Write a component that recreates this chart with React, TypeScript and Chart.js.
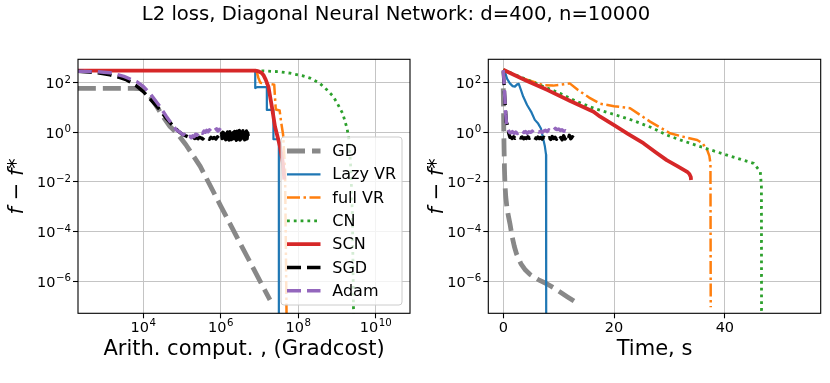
import React, { useEffect, useRef } from "react";
import { Chart, registerables } from "chart.js";

Chart.register(...registerables);

const FONT = "'DejaVu Sans', 'Liberation Sans', sans-serif";

// ---------- texts ----------
const SUPTITLE = "L2 loss, Diagonal Neural Network: d=400, n=10000";
const X_TITLE_LEFT = "Arith. comput. , (Gradcost)";
const X_TITLE_RIGHT = "Time, s";
const Y_TITLE = "f − f*";
const SERIES_NAMES = ["GD", "Lazy VR", "full VR", "CN", "SCN", "SGD", "Adam"];

// ---------- ticks / ranges (exponents of 10 for log axes) ----------
const X_TICKS_LEFT_EXP = [4, 6, 8, 10];
const X_TICKS_RIGHT = [0, 20, 40];
const Y_TICKS_EXP = [-6, -4, -2, 0, 2];
const X_RANGE_LEFT_EXP = [2.314, 10.886];
const X_RANGE_RIGHT = [-2.7, 57.3];
const Y_RANGE_EXP = [-7.29, 2.94];

// ---------- LEFT panel: x = log10(gradcost), y = log10(f - f*) ----------
const GD_L_X = [2.31, 3.0, 3.74, 3.9, 4.0, 4.2, 4.35, 4.5, 4.69, 4.86, 5.1, 5.47, 6.0, 6.5, 7.0, 7.27];
const GD_L_Y = [1.77, 1.77, 1.77, 1.76, 1.7, 1.4, 1.03, 0.65, 0.23, -0.02, -0.5, -1.37, -2.97, -4.47, -5.95, -6.75];

const LAZY_L_X = [2.31, 6.89, 6.89, 6.95, 7.19, 7.19, 7.36, 7.36, 7.5, 7.5];
const LAZY_L_Y = [2.48, 2.48, 1.78, 1.82, 1.82, 0.9, 0.9, -0.28, -0.28, -7.6];

const FULL_L_X = [2.31, 6.92, 6.97, 7.02, 7.38, 7.42, 7.52, 7.56, 7.61, 7.66, 7.7];
const FULL_L_Y = [2.48, 2.48, 2.2, 2.0, 1.92, 0.92, 0.88, 0.4, -0.1, -1.5, -7.6];

const CN_L_X = [2.31, 7.0, 7.5, 7.79, 8.1, 8.31, 8.55, 8.74, 8.9, 9.0, 9.15, 9.26, 9.31, 9.36, 9.4, 9.43];
const CN_L_Y = [2.48, 2.48, 2.44, 2.38, 2.28, 2.18, 1.98, 1.71, 1.45, 1.19, 0.75, 0.16, -0.3, -1.5, -3.5, -7.5];

const SCN_L_X = [2.31, 6.89, 6.98, 7.05, 7.1, 7.16, 7.23, 7.32, 7.4, 7.47, 7.53, 7.6, 7.64];
const SCN_L_Y = [2.48, 2.48, 2.45, 2.4, 2.31, 2.12, 1.84, 1.03, 0.23, -0.2, -0.58, -1.2, -1.9];

const SGD_L_X = [2.31, 2.8, 3.14, 3.4, 3.57, 3.8, 4.0, 4.2, 4.43, 4.6, 4.78, 4.9, 5.03, 5.15];
const SGD_L_Y = [2.46, 2.4, 2.31, 2.2, 2.11, 1.9, 1.64, 1.3, 0.9, 0.55, 0.23, 0.05, -0.1, -0.18];
const SGD_L_PLATEAU_A_RANGE = [5.2, 6.0];
const SGD_L_PLATEAU_A = [-0.2, -0.24, -0.19, -0.25, -0.21, -0.26, -0.2, -0.23, -0.27, -0.19, -0.24, -0.22, -0.28, -0.2, -0.25, -0.21, -0.27, -0.18, -0.26, -0.23];
const SGD_L_PLATEAU_B_RANGE = [6.02, 6.71];
const SGD_L_PLATEAU_B = [-0.05, -0.25, 0.0, -0.28, -0.03, -0.23, 0.03, -0.3, -0.07, -0.25, 0.01, -0.27, -0.02, -0.31, 0.02, -0.24, -0.04, -0.29, 0.05, -0.26, -0.01, -0.3, 0.03, -0.25, -0.05, -0.32, 0.04, -0.28, 0.0, -0.24, 0.07, -0.31, -0.03, -0.27, 0.02, -0.29, 0.06, -0.25, -0.01, -0.3, 0.01, -0.28, 0.05, -0.26, -0.02, -0.15];

const ADAM_L_X = [2.31, 2.8, 3.14, 3.5, 3.83, 4.0, 4.17, 4.4, 4.6, 4.75, 4.86];
const ADAM_L_Y = [2.46, 2.44, 2.4, 2.25, 2.04, 1.85, 1.57, 1.1, 0.63, 0.3, 0.09];
const ADAM_L_PLATEAU_RANGE = [4.95, 6.0];
const ADAM_L_PLATEAU = [0.0, -0.05, -0.1, -0.08, -0.15, -0.12, -0.2, -0.16, -0.22, -0.14, -0.18, -0.08, -0.12, -0.03, -0.07, 0.02, -0.04, 0.05, 0.0, 0.08, 0.02, 0.1, 0.04, 0.12, 0.06, 0.1, 0.14, 0.05, 0.12, 0.08];

// ---------- RIGHT panel: x = time (s), y = log10(f - f*) ----------
const GD_R_T = [0, 0.03, 0.06, 0.1, 0.15, 0.22, 0.3, 0.45, 0.7, 1.0, 1.2, 1.6, 2.0, 2.4, 3.2, 4.0, 4.8, 6.3, 7.85, 9.0, 10.25, 11.6, 13.0];
const GD_R_Y = [1.77, 1.3, 0.7, 0.0, -0.7, -1.5, -2.06, -2.6, -3.1, -3.45, -3.67, -4.2, -4.6, -4.9, -5.3, -5.55, -5.72, -5.93, -6.1, -6.25, -6.43, -6.63, -6.83];

const LAZY_R_T = [0, 0.3, 0.7, 1.2, 1.7, 2.1, 2.5, 2.8, 3.2, 3.6, 4.3, 5.1, 5.7, 6.3, 6.8, 7.2, 7.5, 7.72, 7.75];
const LAZY_R_Y = [2.52, 2.44, 2.15, 1.97, 1.86, 1.84, 1.93, 1.95, 1.7, 1.44, 1.1, 0.8, 0.5, 0.35, 0.15, -0.25, -0.55, -0.9, -7.6];

const FULL_R_T = [0, 3, 7.2, 9, 10.5, 12, 13.5, 15.5, 17.5, 20, 22.9, 24.7, 26.5, 28.3, 30.1, 32.5, 35, 36, 36.8, 37.2, 37.4, 37.45];
const FULL_R_Y = [2.52, 2.22, 1.9, 1.88, 1.92, 1.97, 1.7, 1.4, 1.15, 1.05, 0.97, 0.7, 0.43, 0.2, -0.04, -0.18, -0.31, -0.45, -0.71, -0.95, -1.25, -7.05];

const CN_R_T = [0, 5, 10.25, 13, 16.3, 20, 23.5, 27.1, 29.5, 32.5, 35.6, 38, 40.4, 43, 45.2, 46.4, 46.6, 46.62];
const CN_R_Y = [2.52, 2.05, 1.57, 1.27, 0.97, 0.72, 0.47, 0.16, -0.11, -0.35, -0.58, -0.75, -0.92, -1.1, -1.25, -1.59, -2.2, -7.2];

const SCN_R_T = [0, 4, 8, 12, 16.3, 17.5, 20, 22.5, 25.3, 27.5, 29.5, 31.5, 33.2, 33.6, 33.85, 33.9];
const SCN_R_Y = [2.52, 2.1, 1.7, 1.27, 0.83, 0.63, 0.29, -0.06, -0.44, -0.8, -1.12, -1.37, -1.59, -1.68, -1.8, -1.92];

const SGD_R_T = [0, 0.15, 0.35, 0.55, 0.7, 0.85, 1.0, 1.2];
const SGD_R_Y = [2.46, 1.9, 1.1, 0.4, 0.33, 0.2, -0.05, -0.2];
const SGD_R_PLATEAU_RANGE = [1.35, 12.7];
const SGD_R_PLATEAU = [-0.2, -0.25, -0.18, -0.24, -0.2, -0.27, -0.21, -0.23, -0.19, -0.26, -0.22, -0.25, -0.18, -0.24, -0.21, -0.28, -0.2, -0.23, -0.26, -0.19, -0.25, -0.21, -0.27, -0.2, -0.24, -0.18, -0.26, -0.22, -0.29, -0.17, -0.25, -0.2, -0.28, -0.15, -0.26, -0.21, -0.3, -0.14, -0.27, -0.19, -0.31, -0.12, -0.26, -0.18, -0.22];

const ADAM_R_T = [0, 0.15, 0.3, 0.45, 0.6, 0.8, 1.0, 1.2];
const ADAM_R_Y = [2.5, 2.0, 1.3, 0.7, 0.35, 0.15, 0.05, -0.02];
const ADAM_R_PLATEAU_RANGE = [1.35, 11.5];
const ADAM_R_PLATEAU = [-0.02, 0.03, -0.04, 0.01, -0.05, 0.02, -0.03, 0.04, -0.01, 0.03, -0.04, 0.02, 0.0, 0.05, -0.02, 0.03, 0.06, 0.01, 0.04, -0.01, 0.05, 0.08, 0.03, 0.1, 0.06, 0.14, 0.09, 0.16, 0.11, 0.13, 0.07, 0.1, 0.04, 0.06, 0.02];

// ---------- styles ----------
const STYLES: Record<string, { color: string; width: number; dash: number[] }> = {
  "GD": { color: "#888888", width: 4.8, dash: [18, 7] },
  "Lazy VR": { color: "#1f77b4", width: 2.2, dash: [] },
  "full VR": { color: "#ff7f0e", width: 2.5, dash: [13, 3.5, 2.5, 3.5] },
  "CN": { color: "#2ca02c", width: 2.8, dash: [2.8, 4] },
  "SCN": { color: "#d62728", width: 3.8, dash: [] },
  "SGD": { color: "#000000", width: 3.4, dash: [14, 6] },
  "Adam": { color: "#9467bd", width: 3.4, dash: [14, 6] },
};

const GRID = "#c4c4c4";
const TICK_FONT = 14.5;
const EXP_FONT = 10.2;

type Pt = { x: number; y: number };
const toPts = (xs: number[], ys: number[], logX: boolean): Pt[] =>
  xs.map((x, i) => ({ x: logX ? Math.pow(10, x) : x, y: Math.pow(10, ys[i]) }));
const spread = (range: number[], vals: number[]) =>
  vals.map((_, i) => range[0] + ((range[1] - range[0]) * i) / (vals.length - 1));

const SUP: Record<string, string> = {
  "-": "⁻", "0": "⁰", "1": "¹", "2": "²", "3": "³", "4": "⁴", "5": "⁵", "6": "⁶", "7": "⁷", "8": "⁸", "9": "⁹",
};
const pow10Label = (v: number) =>
  "10" + String(Math.round(Math.log10(v))).split("").map((c) => SUP[c] || c).join("");

function makeDataset(name: string, pts: Pt[]) {
  const s = STYLES[name];
  const idx = SERIES_NAMES.indexOf(name);
  return {
    label: name,
    data: pts,
    borderColor: s.color,
    backgroundColor: s.color,
    borderWidth: s.width,
    borderDash: s.dash,
    borderJoinStyle: "round" as const,
    pointRadius: 0,
    pointHoverRadius: 0,
    fill: false,
    tension: 0,
    clip: 0,
    order: SERIES_NAMES.length - 1 - idx,
  };
}

const framePlugin = {
  id: "frame",
  afterDatasetsDraw(chart: any) {
    const { left, top, right, bottom } = chart.chartArea;
    const ctx = chart.ctx;
    ctx.save();
    ctx.strokeStyle = "#000";
    ctx.lineWidth = 1.1;
    ctx.setLineDash([]);
    ctx.strokeRect(left, top, right - left, bottom - top);
    ctx.restore();
  },
};

// draws the scale's tick labels in matplotlib mathtext style (10 with a raised exponent)
const tickLabelPlugin = {
  id: "mathTicks",
  afterDraw(chart: any) {
    const ctx = chart.ctx;
    const area = chart.chartArea;
    ctx.save();
    ctx.fillStyle = "#000";
    ctx.textAlign = "left";
    ctx.textBaseline = "alphabetic";
    ["x", "y"].forEach((id) => {
      const s = chart.scales[id];
      const isLog = s.type === "logarithmic";
      s.ticks.forEach((t: any) => {
        const p = s.getPixelForValue(t.value);
        const base = isLog ? "10" : String(t.value);
        const exp = isLog ? String(Math.round(Math.log10(t.value))).replace("-", "−") : "";
        ctx.font = `${TICK_FONT}px ${FONT}`;
        const wb = ctx.measureText(base).width;
        ctx.font = `${EXP_FONT}px ${FONT}`;
        const we = exp ? ctx.measureText(exp).width + 0.6 : 0;
        const total = wb + we;
        let x0: number;
        let yb: number;
        if (id === "x") {
          x0 = p - total / 2;
          yb = area.bottom + 18.2;
        } else {
          x0 = area.left - 5 - 2 - total;
          yb = p + 5.5;
        }
        ctx.font = `${TICK_FONT}px ${FONT}`;
        ctx.fillText(base, x0, yb);
        if (exp) {
          ctx.font = `${EXP_FONT}px ${FONT}`;
          ctx.fillText(exp, x0 + wb + 0.6, yb - 5.6);
        }
      });
    });
    ctx.restore();
  },
};

const legendPlugin = {
  id: "innerLegend",
  afterDraw(chart: any) {
    const ctx = chart.ctx;
    const area = chart.chartArea;
    const w = 121;
    const h = 168;
    const x0 = area.right - 8 - w;
    const y0 = area.bottom - 8.3 - h;
    ctx.save();
    ctx.beginPath();
    const r = 3;
    ctx.moveTo(x0 + r, y0);
    ctx.lineTo(x0 + w - r, y0);
    ctx.arcTo(x0 + w, y0, x0 + w, y0 + r, r);
    ctx.lineTo(x0 + w, y0 + h - r);
    ctx.arcTo(x0 + w, y0 + h, x0 + w - r, y0 + h, r);
    ctx.lineTo(x0 + r, y0 + h);
    ctx.arcTo(x0, y0 + h, x0, y0 + h - r, r);
    ctx.lineTo(x0, y0 + r);
    ctx.arcTo(x0, y0, x0 + r, y0, r);
    ctx.closePath();
    ctx.fillStyle = "rgba(255,255,255,0.8)";
    ctx.fill();
    ctx.strokeStyle = "#cccccc";
    ctx.lineWidth = 1;
    ctx.setLineDash([]);
    ctx.stroke();
    ctx.font = `16px ${FONT}`;
    ctx.textBaseline = "middle";
    ctx.textAlign = "left";
    SERIES_NAMES.forEach((name, i) => {
      const ds = chart.data.datasets.find((d: any) => d.label === name);
      if (!ds) return;
      const y = y0 + 14 + i * 23.3;
      ctx.beginPath();
      ctx.strokeStyle = ds.borderColor;
      ctx.lineWidth = ds.borderWidth;
      ctx.setLineDash(ds.borderDash || []);
      ctx.lineCap = "butt";
      ctx.moveTo(x0 + 6, y);
      ctx.lineTo(x0 + 39.5, y);
      ctx.stroke();
      ctx.setLineDash([]);
      ctx.fillStyle = "#000";
      ctx.fillText(name, x0 + 51.3, y + 1);
    });
    ctx.restore();
  },
};

function axisCommon() {
  return {
    ticks: {
      display: false,
      font: { family: FONT, size: TICK_FONT },
      color: "#000",
      autoSkip: false,
      maxRotation: 0,
      minRotation: 0,
    },
    grid: { color: GRID, lineWidth: 1, tickLength: 5, tickColor: "#000", tickWidth: 1.1 },
    border: { display: false },
  };
}

function makeConfig(opts: {
  datasets: any[];
  xScale: any;
  yWidth: number;
  yTitlePad: number;
  padRight: number;
  xTitle: string;
  withLegend: boolean;
}) {
  const c = axisCommon();
  return {
    type: "line" as const,
    data: { datasets: opts.datasets },
    options: {
      animation: false as const,
      responsive: false,
      devicePixelRatio: 1,
      events: [] as any[],
      layout: { padding: { left: 0, right: opts.padRight, top: 59.3, bottom: 0 } },
      plugins: { legend: { display: false }, tooltip: { enabled: false }, title: { display: false } },
      scales: {
        x: {
          ...opts.xScale,
          afterFit: (s: any) => {
            s.height = 69.7;
          },
          ticks: { ...c.ticks, ...(opts.xScale.ticks || {}) },
          grid: c.grid,
          border: c.border,
          title: {
            display: true,
            text: opts.xTitle,
            font: { family: FONT, size: 21 },
            color: "#000",
            padding: { top: 0, bottom: 21 },
          },
        },
        y: {
          type: "logarithmic" as const,
          min: Math.pow(10, Y_RANGE_EXP[0]),
          max: Math.pow(10, Y_RANGE_EXP[1]),
          afterBuildTicks: (s: any) => {
            s.ticks = Y_TICKS_EXP.map((e) => ({ value: Math.pow(10, e) }));
          },
          afterFit: (s: any) => {
            s.width = opts.yWidth;
          },
          ticks: { ...c.ticks, callback: (v: any) => pow10Label(Number(v)) },
          grid: c.grid,
          border: c.border,
          title: {
            display: true,
            text: Y_TITLE,
            font: { family: FONT, size: 21, style: "italic" as const },
            color: "#000",
            padding: { top: opts.yTitlePad, bottom: 0 },
          },
        },
      },
    },
    plugins: opts.withLegend ? [framePlugin, tickLabelPlugin, legendPlugin] : [framePlugin, tickLabelPlugin],
  };
}

function leftConfig() {
  const sgdX = [...SGD_L_X, ...spread(SGD_L_PLATEAU_A_RANGE, SGD_L_PLATEAU_A), ...spread(SGD_L_PLATEAU_B_RANGE, SGD_L_PLATEAU_B)];
  const sgdY = [...SGD_L_Y, ...SGD_L_PLATEAU_A, ...SGD_L_PLATEAU_B];
  const adamX = [...ADAM_L_X, ...spread(ADAM_L_PLATEAU_RANGE, ADAM_L_PLATEAU)];
  const adamY = [...ADAM_L_Y, ...ADAM_L_PLATEAU];
  const datasets = [
    makeDataset("GD", toPts(GD_L_X, GD_L_Y, true)),
    makeDataset("Lazy VR", toPts(LAZY_L_X, LAZY_L_Y, true)),
    makeDataset("full VR", toPts(FULL_L_X, FULL_L_Y, true)),
    makeDataset("CN", toPts(CN_L_X, CN_L_Y, true)),
    makeDataset("SCN", toPts(SCN_L_X, SCN_L_Y, true)),
    makeDataset("SGD", toPts(sgdX, sgdY, true)),
    makeDataset("Adam", toPts(adamX, adamY, true)),
  ];
  return makeConfig({
    datasets,
    xScale: {
      type: "logarithmic",
      min: Math.pow(10, X_RANGE_LEFT_EXP[0]),
      max: Math.pow(10, X_RANGE_LEFT_EXP[1]),
      afterBuildTicks: (s: any) => {
        s.ticks = X_TICKS_LEFT_EXP.map((e) => ({ value: Math.pow(10, e) }));
      },
      ticks: { callback: (v: any) => pow10Label(Number(v)) },
    },
    yWidth: 78,
    yTitlePad: 4.9,
    padRight: 5,
    xTitle: X_TITLE_LEFT,
    withLegend: true,
  });
}

function rightConfig() {
  const sgdX = [...SGD_R_T, ...spread(SGD_R_PLATEAU_RANGE, SGD_R_PLATEAU)];
  const sgdY = [...SGD_R_Y, ...SGD_R_PLATEAU];
  const adamX = [...ADAM_R_T, ...spread(ADAM_R_PLATEAU_RANGE, ADAM_R_PLATEAU)];
  const adamY = [...ADAM_R_Y, ...ADAM_R_PLATEAU];
  const datasets = [
    makeDataset("GD", toPts(GD_R_T, GD_R_Y, false)),
    makeDataset("Lazy VR", toPts(LAZY_R_T, LAZY_R_Y, false)),
    makeDataset("full VR", toPts(FULL_R_T, FULL_R_Y, false)),
    makeDataset("CN", toPts(CN_R_T, CN_R_Y, false)),
    makeDataset("SCN", toPts(SCN_R_T, SCN_R_Y, false)),
    makeDataset("SGD", toPts(sgdX, sgdY, false)),
    makeDataset("Adam", toPts(adamX, adamY, false)),
  ];
  return makeConfig({
    datasets,
    xScale: {
      type: "linear",
      min: X_RANGE_RIGHT[0],
      max: X_RANGE_RIGHT[1],
      afterBuildTicks: (s: any) => {
        s.ticks = X_TICKS_RIGHT.map((v) => ({ value: v }));
      },
      ticks: { callback: (v: any) => String(v) },
    },
    yWidth: 73.3,
    yTitlePad: 9.9,
    padRight: 9.3,
    xTitle: X_TITLE_RIGHT,
    withLegend: false,
  });
}

export default function App() {
  const leftRef = useRef<HTMLCanvasElement>(null);
  const rightRef = useRef<HTMLCanvasElement>(null);
  useEffect(() => {
    const charts: Chart[] = [];
    if (leftRef.current) charts.push(new Chart(leftRef.current, leftConfig() as any));
    if (rightRef.current) charts.push(new Chart(rightRef.current, rightConfig() as any));
    return () => charts.forEach((c) => c.destroy());
  }, []);
  return (
    <div style={{ position: "absolute", left: 0, top: 0, width: 830, height: 383, background: "#fff", overflow: "hidden" }}>
      <canvas ref={leftRef} width={415} height={383} style={{ position: "absolute", left: 0, top: 0, width: 415, height: 383 }} />
      <canvas ref={rightRef} width={415} height={383} style={{ position: "absolute", left: 415, top: 0, width: 415, height: 383 }} />
      <div
        style={{
          position: "absolute",
          left: 0,
          top: 2,
          width: 792,
          textAlign: "center",
          fontFamily: FONT,
          fontSize: 19.6,
          lineHeight: "24px",
          color: "#000",
          whiteSpace: "nowrap",
        }}
      >
        {SUPTITLE}
      </div>
    </div>
  );
}
